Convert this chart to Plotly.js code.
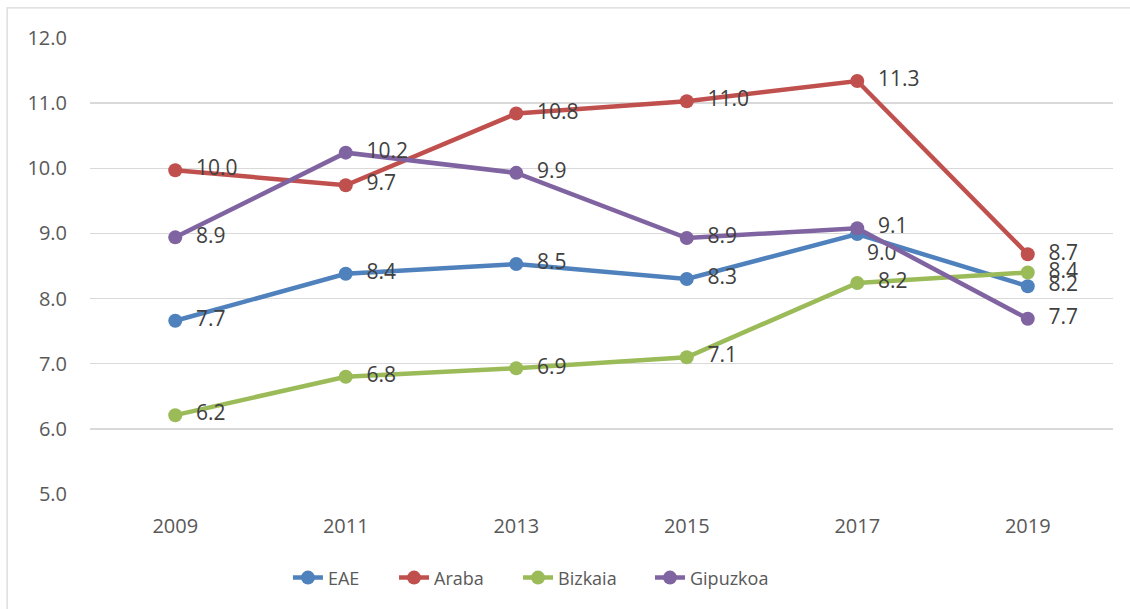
<!DOCTYPE html>
<html>
<head>
<meta charset="utf-8">
<script src="https://cdn.plot.ly/plotly-3.0.1.min.js"></script>
<style>
  html, body { margin: 0; padding: 0; background: #fff; }
  #chart { width: 1130px; height: 609px; }
</style>
</head>
<body>
<div id="chart"></div>
<script>
// Data
const years = ['2009', '2011', '2013', '2015', '2017', '2019'];
const eae = [7.66, 8.38, 8.53, 8.30, 8.99, 8.19];
const araba = [9.97, 9.74, 10.84, 11.03, 11.34, 8.68];
const bizkaia = [6.21, 6.80, 6.93, 7.10, 8.24, 8.40];
const gipuzkoa = [8.94, 10.24, 9.93, 8.93, 9.08, 7.69];

const seriesNames = ['EAE', 'Araba', 'Bizkaia', 'Gipuzkoa'];
const seriesColors = ['#4f81bd', '#c0504d', '#9bbb59', '#8064a2'];

const pad = '\u00a0\u00a0';
const legendIds = ['legend', 'legend2', 'legend3', 'legend4'];
const legendX = [0.1935, 0.2972, 0.4184, 0.5474];

function makeTrace(k, values, below) {
    // below: index of a point whose label sits under the marker
    const color = seriesColors[k];
    return {
        x: years,
        y: values,
        name: seriesNames[k],
        legend: legendIds[k],
        type: 'scatter',
        mode: 'lines+markers+text',
        line: { color: color, width: 4.5 },
        marker: { color: color, size: 14 },
        text: values.map((v, i) => (i === below ? '' : pad) + v.toFixed(1)),
        textposition: values.map((v, i) => i === below ? 'bottom right' : 'middle right'),
        textfont: { family: 'Open Sans, sans-serif', size: 21, color: '#404040' },
        cliponaxis: false,
        hoverinfo: 'x+y'
    };
}

const traces = [
    makeTrace(0, eae, 4),
    makeTrace(1, araba, -1),
    makeTrace(2, bizkaia, -1),
    makeTrace(3, gipuzkoa, -1)
];

const layout = {
    width: 1130,
    height: 609,
    font: { family: 'Open Sans, sans-serif', size: 20, color: '#595959' },
    margin: { t: 38, r: 17, b: 115, l: 90 },
    paper_bgcolor: '#fff',
    plot_bgcolor: '#fff',
    showlegend: true,
    xaxis: {
        type: 'category',
        range: [-0.5, 5.5],
        showgrid: false,
        zeroline: false,
        showline: false,
        ticks: '',
        ticklabelstandoff: 18,
        fixedrange: true
    },
    yaxis: {
        range: [5, 12],
        dtick: 1,
        tickformat: '.1f',
        showgrid: true,
        gridcolor: '#d9d9d9',
        gridwidth: 1.3,
        zeroline: false,
        showline: false,
        ticks: '',
        ticklabelstandoff: 22,
        fixedrange: true
    },
    shapes: [{
        type: 'rect',
        xref: 'paper', yref: 'paper',
        x0: -0.081, x1: 1.03,
        y0: -0.3, y1: 1.066,
        line: { color: '#d9d9d9', width: 1.3 },
        fillcolor: 'rgba(0,0,0,0)',
        layer: 'below'
    }]
};

legendIds.forEach((id, k) => {
    layout[id] = {
        orientation: 'h',
        x: legendX[k],
        xanchor: 'left',
        y: -0.184,
        yanchor: 'middle',
        bgcolor: 'rgba(0,0,0,0)',
        font: { size: 18, color: '#595959' }
    };
});

Plotly.newPlot('chart', traces, layout, { displayModeBar: false, staticPlot: true });
</script>
</body>
</html>
